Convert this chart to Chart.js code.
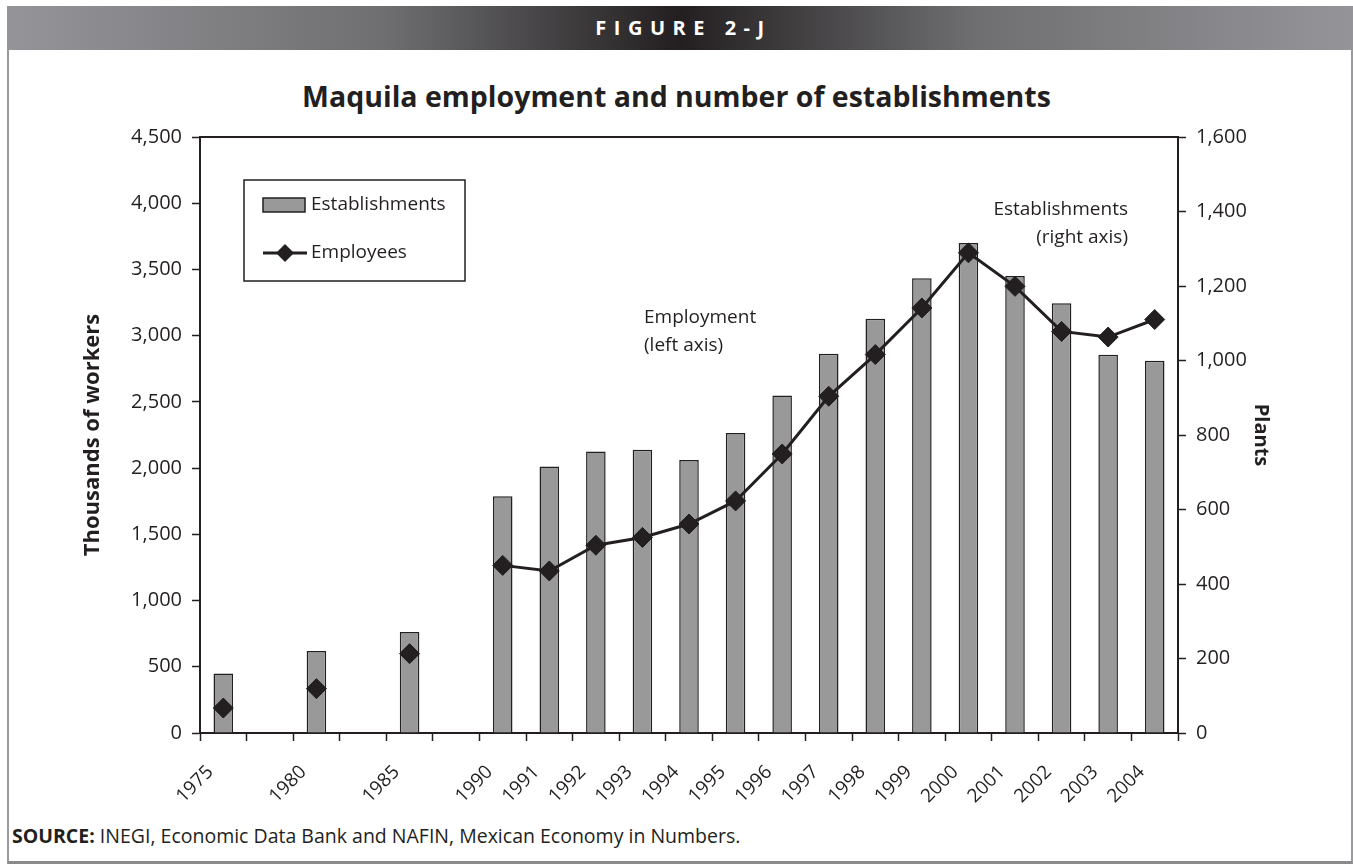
<!DOCTYPE html>
<html>
<head>
<meta charset="utf-8">
<title>Maquila employment and number of establishments</title>
<script src="https://cdn.jsdelivr.net/npm/chart.js@4.4.1/dist/chart.umd.min.js"></script>
<style>
  html, body { margin: 0; padding: 0; background: #fff; }
  body { width: 1353px; height: 866px; position: relative; overflow: hidden; font-family: "Open Sans", sans-serif; color: #231f20; }
  .band {
    position: absolute; left: 7px; right: 0; top: 6px; height: 44px;
    background: linear-gradient(to right, #959599 0%, #6f6f72 28%, #231f20 50%, #6f6f72 72%, #959599 100%);
    color: #fff; font-weight: 700; font-size: 20px; letter-spacing: 7.5px;
    text-align: center; line-height: 44px; text-indent: 7px;
  }
  .panel {
    position: absolute; left: 7px; top: 50px; width: 1342px; height: 811px;
    border-left: 2px solid #9a9a9c; border-right: 2px solid #9a9a9c;
    border-bottom: 3px solid #8a8a8d;
  }
  .title {
    position: absolute; left: 0; width: 1353px; top: 77px;
    text-align: center; font-weight: 700; font-size: 28.5px;
  }
  .source { position: absolute; left: 12px; top: 822px; font-size: 19.5px; }
  .source b { font-weight: 700; }
  #wrap { position: absolute; left: 0; top: 0; width: 1353px; height: 866px; }
</style>
</head>
<body>
<div class="band">FIGURE 2-J</div>
<div class="panel"></div>
<div class="title">Maquila employment and number of establishments</div>
<div class="source"><b>SOURCE:</b> INEGI, Economic Data Bank and NAFIN, Mexican Economy in Numbers.</div>
<div id="wrap"><canvas id="maquilaChart"></canvas></div>

<script>
// years on the x axis; empty slots keep the gaps between 1975, 1980, 1985 and 1990
const years = ["1975", "", "1980", "", "1985", "", "1990", "1991", "1992", "1993", "1994",
  "1995", "1996", "1997", "1998", "1999", "2000", "2001", "2002", "2003", "2004"];

// number of plants (bars, left scale)
const establishments = [450, null, 619, null, 763, null, 1787, 2013, 2126, 2139, 2061,
  2265, 2549, 2864, 3128, 3433, 3700, 3451, 3244, 2856, 2811];

// employees in thousands (line, right scale)
const employees = [67, null, 119, null, 213, null, 450, 435, 504, 525, 561,
  623, 749, 904, 1016, 1141, 1289, 1199, 1078, 1063, 1110];

const leftTicks = { min: 0, max: 4500, step: 500 };
const rightTicks = { min: 0, max: 1600, step: 200 };

const INK = "#231f20";
const BAR_FILL = "#999999";
const FONT = "'Open Sans', sans-serif";

const fmt = v => v.toLocaleString("en-US");

// legend box, text notes and the top frame line of the plot
const extras = {
  id: "extras",
  afterDraw(chart) {
    const { ctx, chartArea: a } = chart;
    ctx.save();

    ctx.strokeStyle = INK;
    ctx.lineWidth = 2;
    ctx.beginPath();
    ctx.moveTo(a.left, a.top);
    ctx.lineTo(a.right, a.top);
    ctx.stroke();

    // legend
    const lx = a.left + 44, ly = a.top + 43;
    ctx.lineWidth = 1.5;
    ctx.strokeRect(lx, ly, 221, 101);

    ctx.fillStyle = BAR_FILL;
    ctx.fillRect(lx + 19, ly + 18, 42, 14);
    ctx.strokeRect(lx + 19, ly + 18, 42, 14);

    ctx.lineWidth = 3;
    ctx.beginPath();
    ctx.moveTo(lx + 19, ly + 73);
    ctx.lineTo(lx + 63, ly + 73);
    ctx.stroke();
    ctx.fillStyle = INK;
    ctx.beginPath();
    ctx.moveTo(lx + 41, ly + 64);
    ctx.lineTo(lx + 50, ly + 73);
    ctx.lineTo(lx + 41, ly + 82);
    ctx.lineTo(lx + 32, ly + 73);
    ctx.closePath();
    ctx.fill();

    ctx.font = "19px " + FONT;
    ctx.textBaseline = "middle";
    ctx.textAlign = "left";
    ctx.fillText("Establishments", lx + 67, ly + 25);
    ctx.fillText("Employees", lx + 67, ly + 73);

    // notes next to the series
    ctx.fillText("Employment", 644, 318);
    ctx.fillText("(left axis)", 644, 346);
    ctx.textAlign = "right";
    ctx.fillText("Establishments", 1128, 210);
    ctx.fillText("(right axis)", 1128, 238);

    ctx.restore();
  }
};

const initChart = () => {
  const canvas = document.getElementById("maquilaChart");
  const ctx = canvas.getContext("2d");

  window.maquilaChart = new Chart(ctx, {
    data: {
      labels: years,
      datasets: [
        {
          type: "line",
          label: "Employees",
          data: employees,
          yAxisID: "y1",
          order: 0,
          borderColor: INK,
          borderWidth: 3,
          pointStyle: "rectRot",
          pointRadius: 10,
          pointBackgroundColor: INK,
          pointBorderColor: INK,
          pointBorderWidth: 1,
          spanGaps: false,
          tension: 0
        },
        {
          type: "bar",
          label: "Establishments",
          data: establishments,
          yAxisID: "y",
          order: 1,
          backgroundColor: BAR_FILL,
          borderColor: INK,
          borderWidth: 1.5,
          categoryPercentage: 1,
          barPercentage: 0.42
        }
      ]
    },
    options: {
      responsive: true,
      maintainAspectRatio: false,
      animation: false,
      layout: { padding: { left: 78, right: 76, top: 137, bottom: 0 } },
      plugins: {
        legend: { display: false },
        tooltip: { enabled: false }
      },
      scales: {
        x: {
          offset: true,
          grid: {
            offset: true,
            drawOnChartArea: false,
            drawTicks: true,
            tickLength: 8,
            tickColor: INK,
            tickWidth: 1.5
          },
          border: { color: INK, width: 2 },
          ticks: {
            autoSkip: false,
            minRotation: 45,
            maxRotation: 45,
            color: INK,
            padding: 20,
            labelOffset: -13,
            font: { family: FONT, size: 19 }
          },
          afterFit(scale) { scale.height = 133; }
        },
        y: {
          position: "left",
          min: leftTicks.min,
          max: leftTicks.max,
          grid: { drawOnChartArea: false, tickLength: 8, tickColor: INK, tickWidth: 1.5 },
          border: { color: INK, width: 2 },
          ticks: {
            stepSize: leftTicks.step,
            color: INK,
            padding: 10,
            font: { family: FONT, size: 20 },
            callback: v => fmt(v)
          },
          title: {
            display: true,
            text: "Thousands of workers",
            color: INK,
            padding: { top: 2, bottom: 4 },
            font: { family: FONT, size: 22, weight: "bold" }
          },
          afterFit(scale) { scale.width = 122; }
        },
        y1: {
          position: "right",
          min: rightTicks.min,
          max: rightTicks.max,
          grid: { drawOnChartArea: false, tickLength: 8, tickColor: INK, tickWidth: 1.5 },
          border: { color: INK, width: 2 },
          ticks: {
            stepSize: rightTicks.step,
            color: INK,
            padding: 10,
            font: { family: FONT, size: 20 },
            callback: v => fmt(v)
          },
          title: {
            display: true,
            text: "Plants",
            color: INK,
            font: { family: FONT, size: 20, weight: "bold" }
          },
          afterFit(scale) { scale.width = 99; }
        }
      }
    },
    plugins: [extras]
  });
};

document.addEventListener("DOMContentLoaded", initChart);
</script>
</body>
</html>
